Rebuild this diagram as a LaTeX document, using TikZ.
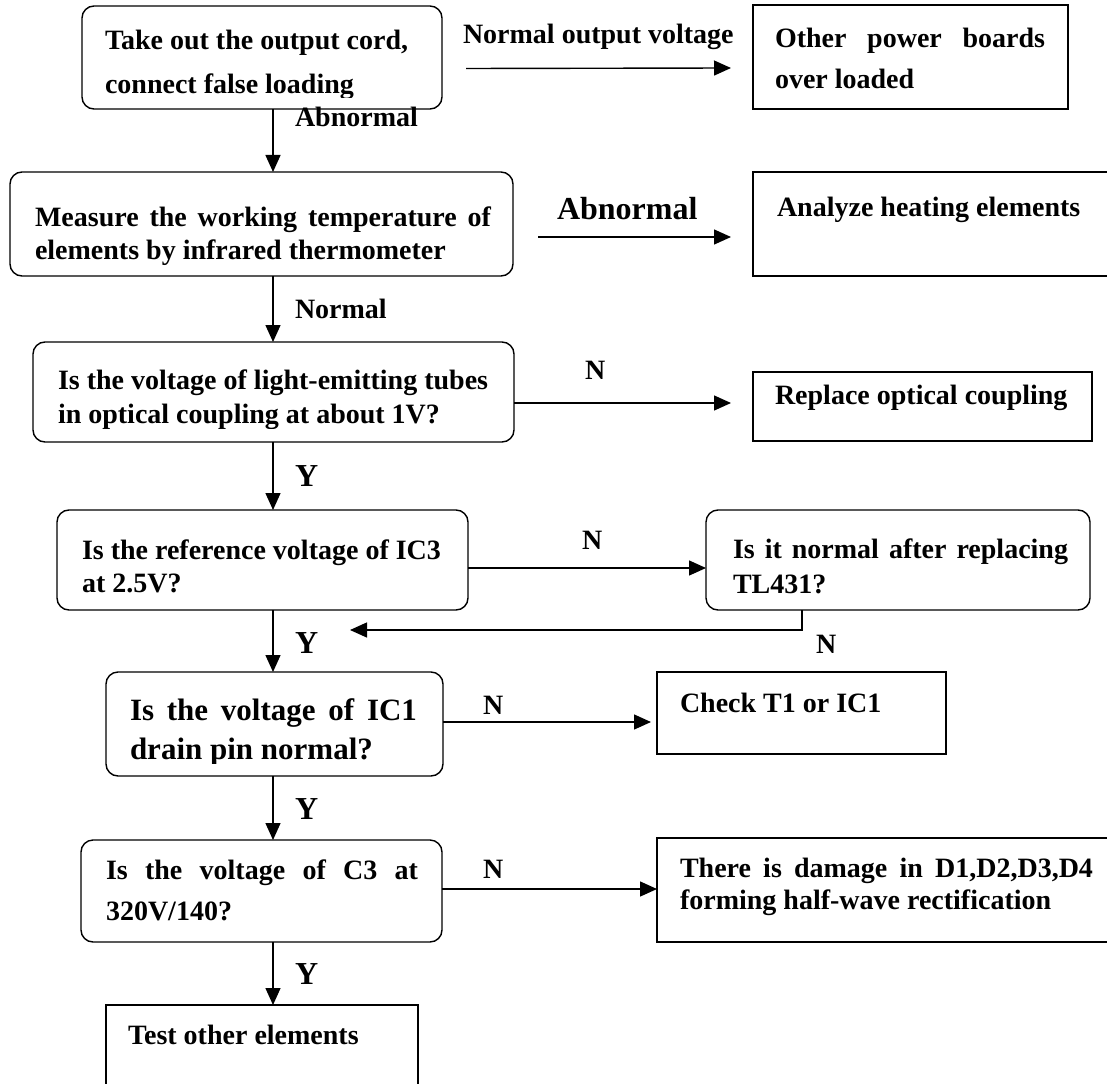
\documentclass[tikz,border=0pt]{standalone}
\usepackage{fontspec}
\setmainfont{Liberation Serif}
\usetikzlibrary{arrows.meta,calc}
% paragraph set inside a box: width, baseline skip, font size, text
\newcommand\bxtxt[4]{\parbox[t]{#1}{\fontsize{#3}{#2}\selectfont #4}}
\begin{document}
\begin{tikzpicture}[x=1pt,y=-1pt,
  every node/.style={inner sep=0pt,outer sep=0pt},
  rbox/.style={draw,line width=1.4pt,rounded corners=12pt},
  sbox/.style={draw,line width=1.4pt},
  txt/.style={anchor=base west,font=\bfseries},
  lbl/.style={anchor=base west,font=\bfseries\fontsize{28}{34}\selectfont},
  biglbl/.style={anchor=base west,font=\bfseries\fontsize{32}{38}\selectfont},
  arr/.style={line width=1.4pt,-{Triangle[length=17pt,width=15pt]}},
  line/.style={line width=1.4pt}]
\useasboundingbox (0,0) rectangle (1107,1083);
\clip (0,0) rectangle (1107,1083);
\coordinate (spine) at (273,0);

% boxes
\node[rbox,minimum width=360pt,minimum height=103pt] (b1) at (262,57.5) {};
\node[sbox,minimum width=315pt,minimum height=104pt] (b2) at (910.5,57) {};
\node[rbox,minimum width=503pt,minimum height=104pt] (b3) at (261.5,224) {};
\node[sbox,minimum width=400pt,minimum height=104pt] (b4) at (953,224) {};
\node[rbox,minimum width=481pt,minimum height=100pt] (b5) at (273.5,392) {};
\node[sbox,minimum width=339pt,minimum height=69pt] (b6) at (922.5,406.5) {};
\node[rbox,minimum width=411pt,minimum height=100pt] (b7) at (262.5,560) {};
\node[rbox,minimum width=384pt,minimum height=100pt] (b8) at (898,560) {};
\node[rbox,minimum width=337pt,minimum height=104pt] (b9) at (274.5,724) {};
\node[sbox,minimum width=289pt,minimum height=82pt] (b10) at (801.5,713) {};
\node[rbox,minimum width=361pt,minimum height=102pt] (b11) at (261.5,891) {};
\node[sbox,minimum width=500pt,minimum height=104pt] (b12) at (907,890) {};
\node[sbox,minimum width=312pt,minimum height=120pt] (b13) at (262,1065) {};

% box texts (some text frames cut off the descenders of their last line)
\begin{scope}
  \clip (90,10) rectangle (435,98);
  \node[txt] (t1) at (105,50) {\bxtxt{330pt}{44pt}{28}{Take out the output cord,\newline connect false loading}};
\end{scope}
\node[txt] (t2) at (775,48) {\bxtxt{270pt}{41pt}{28}{Other power boards\linebreak over loaded}};
\node[txt] (t3) at (35,226) {\bxtxt{456pt}{33pt}{28}{Measure the working temperature of\linebreak elements by infrared thermometer}};
\node[txt] (t4) at (777,217) {\bxtxt{320pt}{33pt}{28}{Analyze heating elements}};
\begin{scope}
  \clip (40,350) rectangle (505,428);
  \node[txt] (t5) at (58,389) {\bxtxt{440pt}{34pt}{28}{Is the voltage of light-emitting tubes\newline in optical coupling at about 1V?}};
\end{scope}
\node[txt] (t6) at (775,404) {\bxtxt{310pt}{34pt}{28}{Replace optical coupling}};
\node[txt] (t7) at (82,559) {\bxtxt{370pt}{33pt}{28}{Is the reference voltage of IC3\newline at 2.5V?}};
\node[txt] (t8) at (733,558) {\bxtxt{335pt}{35pt}{28}{Is it normal after replacing\linebreak TL431?}};
\begin{scope}
  \clip (115,680) rectangle (435,763);
  \node[txt] (t9) at (130,720) {\bxtxt{287pt}{39pt}{31}{Is the voltage of IC1\linebreak drain pin normal?}};
\end{scope}
\node[txt] (t10) at (680,712) {\bxtxt{250pt}{34pt}{28}{Check T1 or IC1}};
\node[txt] (t11) at (106,879) {\bxtxt{312pt}{41pt}{28}{Is the voltage of C3 at\linebreak 320V/140?}};
\node[txt] (t12) at (680,877) {\bxtxt{413pt}{32pt}{28}{There is damage in D1,D2,D3,D4\linebreak forming half-wave rectification}};
\node[txt] (t13) at (128,1044) {\bxtxt{280pt}{34pt}{28}{Test other elements}};

% main column
\draw[arr] (b1.south -| spine) -- (b3.north -| spine);
\draw[arr] (b3.south -| spine) -- (b5.north -| spine);
\draw[arr] (b5.south -| spine) -- (b7.north -| spine);
\draw[arr] (b7.south -| spine) -- (b9.north -| spine);
\draw[arr] (b9.south -| spine) -- (b11.north -| spine);
\draw[arr] (b11.south -| spine) -- (b13.north -| spine);
\node[lbl] (l1) at (295,127) {Abnormal};
\node[lbl] (l2) at (295,318) {Normal};
\node[biglbl] (l3) at (295,486) {Y};
\node[biglbl] (l4) at (295,653) {Y};
\node[biglbl] (l5) at (295,819) {Y};
\node[biglbl] (l6) at (295,984) {Y};

% side branches
\draw[arr] ([shift={(24,11)}]b1.east) -- ([shift={(-22,11)}]b2.west);
\node[lbl] (l7) at (463,44) {Normal output voltage};
\draw[arr] ([shift={(25,13)}]b3.east) -- ([shift={(-22,13)}]b4.west);
\node[biglbl] (l8) at (557,219) {Abnormal};
\draw[arr] ([shift={(0,11)}]b5.east) -- ([shift={(-22,-3.5)}]b6.west);
\node[lbl] (l9) at (585,379) {N};
\draw[arr] ([shift={(0,8)}]b7.east) -- ([shift={(0,8)}]b8.west);
\node[lbl] (l10) at (582,549) {N};
\coordinate (loopend) at (350,630);
\draw[arr] ([shift={(-96,0)}]b8.south) |- (loopend);
\node[lbl] (l11) at (816,653) {N};
\draw[arr] ([shift={(0,-2)}]b9.east) -- ([shift={(-6,9)}]b10.west);
\node[lbl] (l12) at (483,714) {N};
\draw[arr] ([shift={(0,-2)}]b11.east) -- ([shift={(0,-1)}]b12.west);
\node[lbl] (l13) at (483,878) {N};
\end{tikzpicture}
\end{document}
